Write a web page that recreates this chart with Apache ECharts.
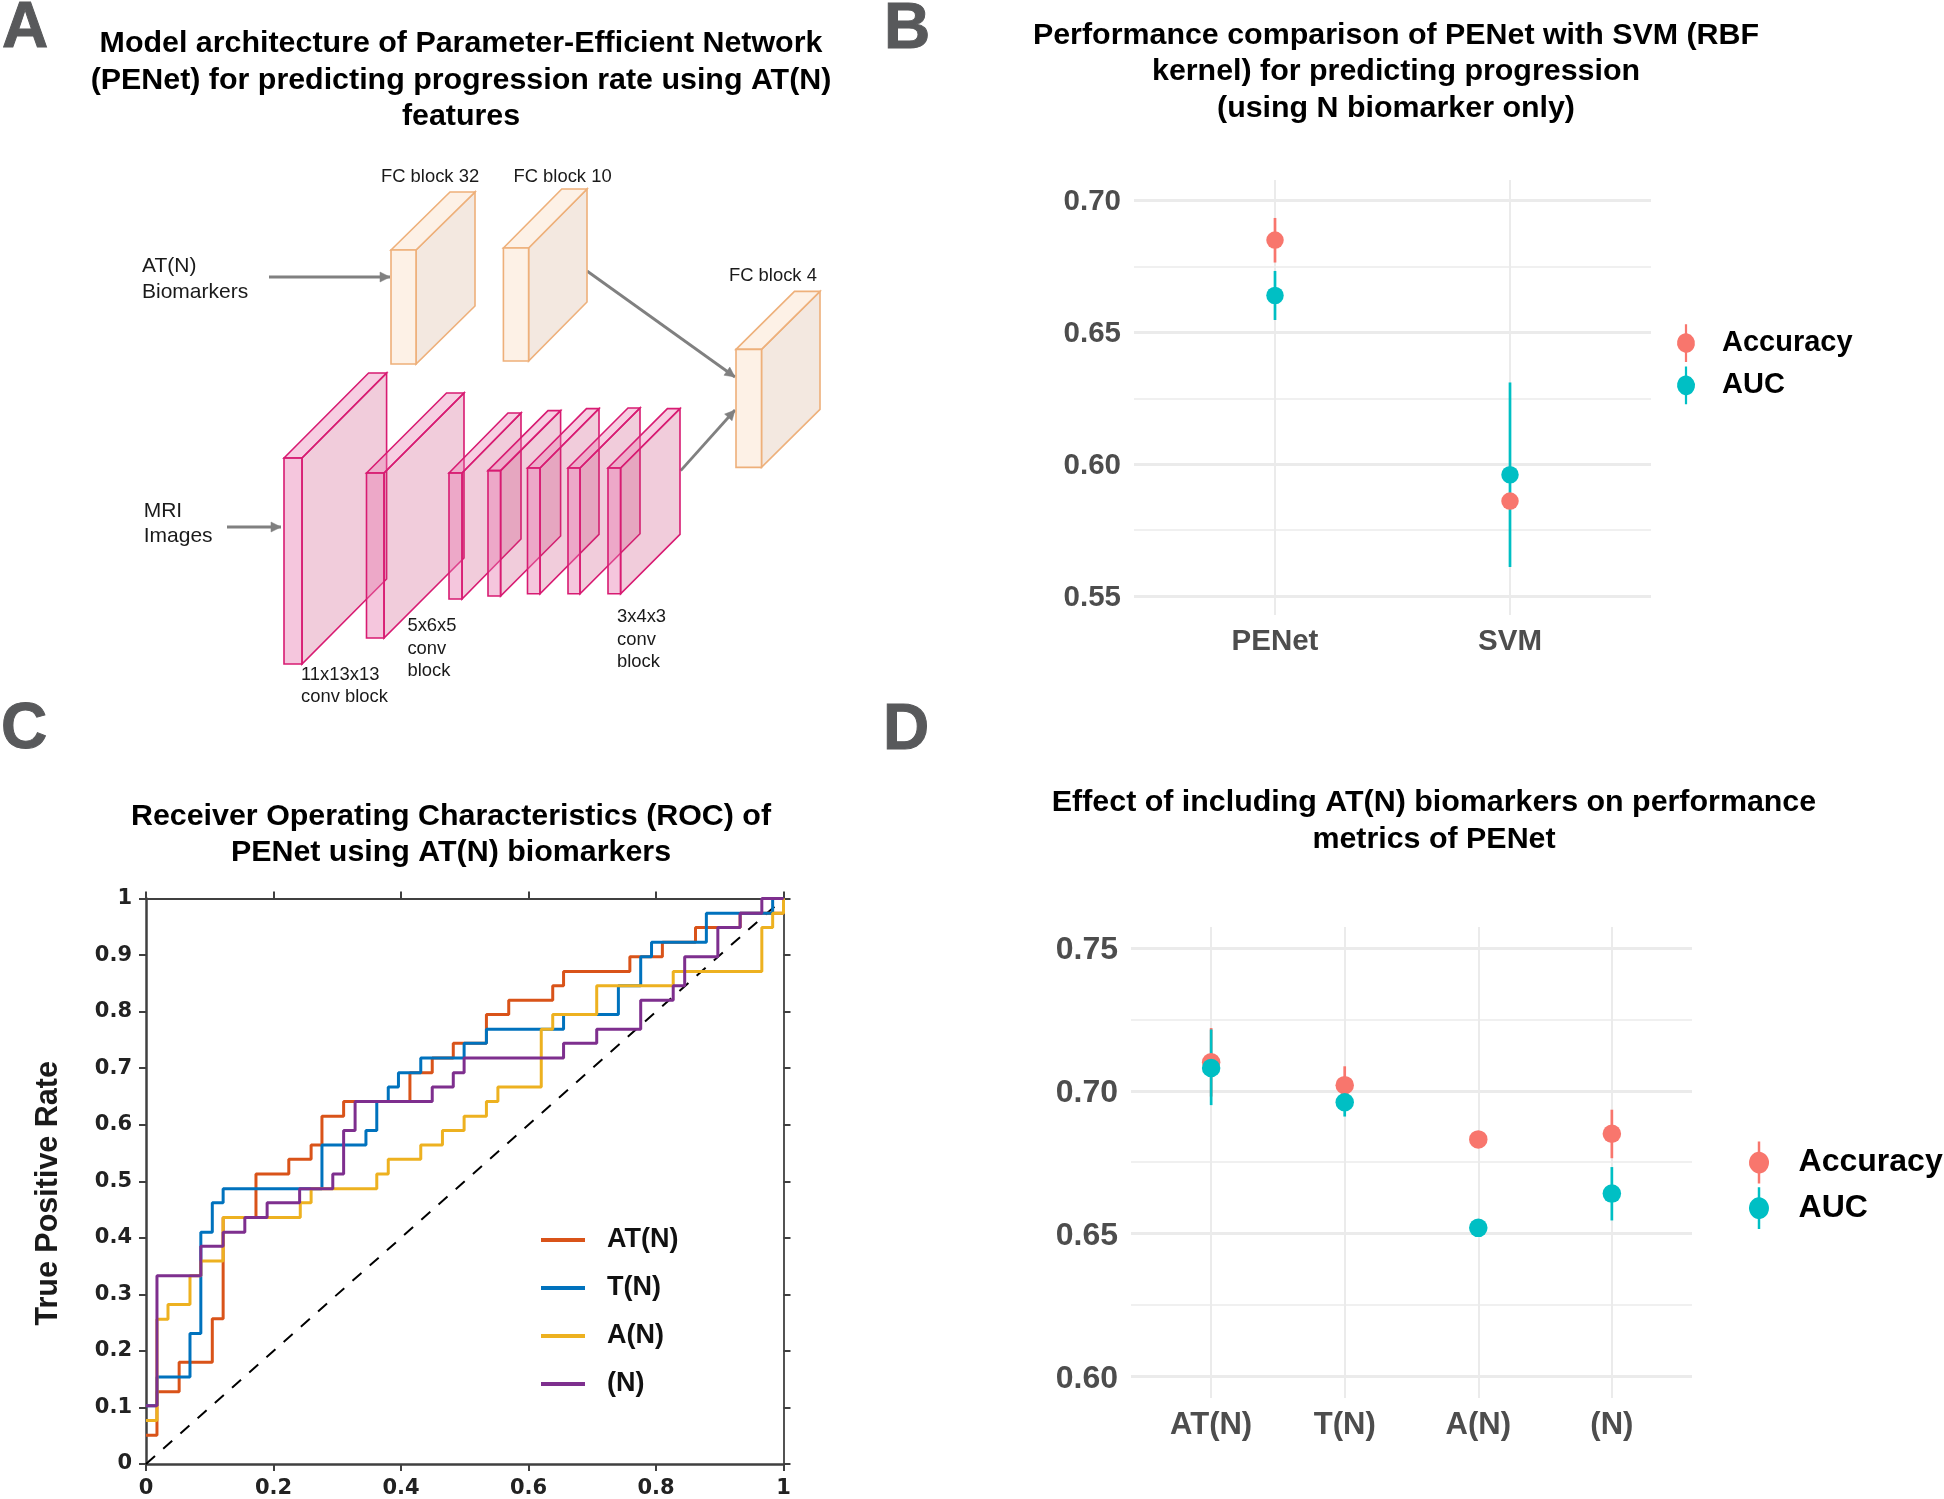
<!DOCTYPE html>
<html><head><meta charset="utf-8">
<style>html,body{margin:0;padding:0;background:#fff}#c{width:1944px;height:1499px}</style>
<script src="https://cdn.jsdelivr.net/npm/echarts@6/dist/echarts.min.js"></script>
</head><body><div id="c"></div>
<script>
// ---------- Panel B data ----------
const bCategories = ['PENet', 'SVM'];
const bAccuracy = [0.685, 0.586];
const bAccuracyLow = [0.6765, 0.585];
const bAccuracyHigh = [0.6934, 0.587];
const bAuc = [0.664, 0.596];
const bAucLow = [0.6547, 0.561];
const bAucHigh = [0.6733, 0.631];
const bMajorTicks = [0.55, 0.60, 0.65, 0.70];
const bMinorTicks = [0.575, 0.625, 0.675];

// ---------- Panel D data ----------
const dCategories = ['AT(N)', 'T(N)', 'A(N)', '(N)'];
const dAccuracy = [0.710, 0.702, 0.683, 0.685];
const dAccuracyLow = [0.698, 0.695, 0.6825, 0.6764];
const dAccuracyHigh = [0.722, 0.7086, 0.6835, 0.6934];
const dAuc = [0.708, 0.696, 0.652, 0.664];
const dAucLow = [0.695, 0.691, 0.6515, 0.6546];
const dAucHigh = [0.7215, 0.701, 0.6525, 0.6733];
const dMajorTicks = [0.60, 0.65, 0.70, 0.75];
const dMinorTicks = [0.625, 0.675, 0.725];

// ---------- Panel C data (ROC corners: x where the curve rises, y after the rise) ----------
const rocAT = [[0,0.051],[0.0172,0.128],[0.052,0.18],[0.104,0.257],[0.121,0.436],[0.1725,0.513],[0.224,0.539],[0.259,0.564],[0.276,0.615],[0.31,0.641],[0.414,0.692],[0.449,0.718],[0.482,0.744],[0.534,0.795],[0.569,0.82],[0.638,0.846],[0.655,0.871],[0.759,0.897],[0.81,0.923],[0.862,0.949],[0.932,0.974],[1,1]];
const rocT = [[0,0.103],[0.0172,0.154],[0.069,0.231],[0.086,0.41],[0.104,0.462],[0.121,0.487],[0.276,0.564],[0.345,0.59],[0.362,0.641],[0.38,0.667],[0.396,0.692],[0.431,0.718],[0.499,0.744],[0.534,0.769],[0.655,0.795],[0.741,0.846],[0.776,0.897],[0.793,0.923],[0.879,0.974],[0.983,1],[1,1]];
const rocA = [[0,0.077],[0.0172,0.256],[0.0345,0.282],[0.069,0.333],[0.086,0.359],[0.121,0.436],[0.242,0.462],[0.259,0.487],[0.362,0.513],[0.38,0.539],[0.431,0.564],[0.465,0.59],[0.499,0.615],[0.534,0.641],[0.552,0.667],[0.62,0.769],[0.638,0.795],[0.707,0.846],[0.827,0.871],[0.966,0.949],[0.983,0.974],[1,1]];
const rocN = [[0,0.103],[0.0172,0.333],[0.086,0.385],[0.121,0.41],[0.155,0.436],[0.19,0.462],[0.241,0.487],[0.293,0.513],[0.31,0.59],[0.328,0.641],[0.449,0.667],[0.482,0.692],[0.499,0.718],[0.655,0.744],[0.707,0.769],[0.776,0.82],[0.827,0.846],[0.845,0.897],[0.897,0.949],[0.932,0.974],[0.966,1],[1,1]];
const rocChance = [[0,0],[1,1]];
const rocNames = ['AT(N)', 'T(N)', 'A(N)', '(N)'];

// ---------- Styling ----------
const FONT = '"Liberation Sans", Arial, sans-serif';
const TICKFONT = '"DejaVu Sans", sans-serif';
const RED = '#F8766D', CYAN = '#00BFC4', GRID = '#ebebeb', TICK = '#4d4d4d', AX = '#404040';
const ROC_COLORS = ['#D95319', '#0072BD', '#EDB120', '#7E2F8E'];
const GLYPH = 'path://M8 0h2v8.2a9 9 0 0 1 0 17.6V34h-2v-8.2a9 9 0 0 1 0-17.6z';

function zipRange(low, high) { return low.map((v, i) => [i + 1, v, high[i]]); }
function zipPoint(vals) { return vals.map((v, i) => [i + 1, v]); }

function errSeries(name, low, high, color, xi, yi) {
  return {
    type: 'custom', name: name, xAxisIndex: xi, yAxisIndex: yi, silent: true, z: 3,
    encode: { x: 0, y: [1, 2] }, data: zipRange(low, high),
    renderItem: function (p, api) {
      const a = api.coord([api.value(0), api.value(1)]);
      const b = api.coord([api.value(0), api.value(2)]);
      return { type: 'line', shape: { x1: a[0], y1: a[1], x2: b[0], y2: b[1] }, style: { stroke: color, lineWidth: 2.7 } };
    }
  };
}
function pointSeries(name, vals, color, size, xi, yi) {
  return { type: 'scatter', name: name, xAxisIndex: xi, yAxisIndex: yi, symbolSize: size, z: 4, silent: true,
    itemStyle: { color: color, opacity: 1 }, data: zipPoint(vals) };
}
function rocSeries(name, data, color) {
  return { type: 'line', name: name, xAxisIndex: 1, yAxisIndex: 2, step: 'end', data: data, showSymbol: false, clip: false, z: 5,
    lineStyle: { color: color, width: 3 }, itemStyle: { color: color }, silent: true };
}
function ggX(gridIndex, cats, size) {
  return { type: 'value', gridIndex: gridIndex, min: 0.4, max: cats.length + 0.6, position: 'bottom',
    axisLine: { show: false }, axisTick: { show: false, customValues: cats.map((c, i) => i + 1) },
    axisLabel: { customValues: cats.map((c, i) => i + 1), color: TICK, fontWeight: 'bold', fontFamily: FONT, fontSize: size, margin: 12,
      formatter: v => cats[Math.round(v) - 1] },
    splitLine: { show: true, lineStyle: { color: GRID, width: 2 } } };
}
function ggY(gridIndex, min, max, ticks, size, width, labels, nudge) {
  return { type: 'value', gridIndex: gridIndex, min: min, max: max, position: 'left',
    axisLine: { show: false }, axisTick: { show: false, customValues: ticks },
    axisLabel: { show: labels, customValues: ticks, margin: 13, fontSize: size,
      rich: { a: { color: TICK, fontWeight: 'bold', fontFamily: FONT, fontSize: size, padding: [nudge || 0, 0, 0, 0] } },
      formatter: v => '{a|' + v.toFixed(2) + '}' },
    splitLine: { show: true, lineStyle: { color: GRID, width: width } } };
}
function rocAxis(position, interval, labels) {
  return { type: 'value', gridIndex: 1, min: 0, max: 1, interval: interval, position: position,
    axisLine: { show: true, onZero: false, lineStyle: { color: AX, width: (position === 'left' || position === 'bottom') ? 2.5 : 1.8 } },
    axisTick: { show: true, length: 7, lineStyle: { color: AX, width: 2 } },
    axisLabel: { show: labels, color: '#222', fontWeight: 'bold', fontFamily: TICKFONT, fontSize: 21, margin: 14 },
    splitLine: { show: false } };
}

// ---------- Panel A diagram (schematic, not data) ----------
const ORANGE = { front: '#fdf1e6', top: '#fdf1e6', side: '#f3e8e0', line: '#eeb07a' };
const PINK = { front: 'rgba(232,120,175,.42)', top: 'rgba(232,120,175,.36)', side: 'rgba(200,50,110,.25)', line: '#d81b72' };
const el = [];
function poly(pts, fill, stroke, lw) {
  el.push({ type: 'polygon', shape: { points: pts }, style: { fill: fill, stroke: stroke, lineWidth: lw === undefined ? 1.6 : lw }, silent: true });
}
function box(x, y, w, h, dx, dy, c) {
  poly([[x + w, y], [x + w + dx, y - dy], [x + w + dx, y + h - dy], [x + w, y + h]], c.side, c.line);
  poly([[x, y], [x + dx, y - dy], [x + w + dx, y - dy], [x + w, y]], c.top, c.line);
  poly([[x, y], [x + w, y], [x + w, y + h], [x, y + h]], c.front, c.line);
}
function arrow(x1, y1, x2, y2) {
  el.push({ type: 'line', shape: { x1: x1, y1: y1, x2: x2, y2: y2 }, style: { stroke: '#808080', lineWidth: 2.8 }, silent: true });
  const a = Math.atan2(y2 - y1, x2 - x1), L = 10, W = 5;
  const bx = x2 - L * Math.cos(a), by = y2 - L * Math.sin(a);
  poly([[x2, y2], [bx - W * Math.sin(a), by + W * Math.cos(a)], [bx + W * Math.sin(a), by - W * Math.cos(a)]], '#808080', '#808080', 0.5);
}
function label(t, x, y, size) {
  el.push({ type: 'text', x: x, y: y + 1.2, silent: true, z: 10, style: { text: t, font: (size || 18.4) + 'px ' + FONT, fill: '#1a1a1a', verticalAlign: 'middle' } });
}
arrow(269, 277, 390, 277);
arrow(587, 271, 735, 377);
arrow(680.7, 470.6, 735, 410);
arrow(227, 527, 281, 527);
box(391, 250, 25, 114, 59, 58, ORANGE);
box(503.4, 248, 25.2, 113, 58.4, 59, ORANGE);
box(736, 349.4, 25.5, 118, 58.5, 58, ORANGE);
box(284, 458, 18, 206, 84.6, 85, PINK);
box(366.5, 473, 17.5, 165, 80, 80, PINK);
box(449, 473, 13, 126, 59, 60, PINK);
box(488, 470.6, 12.6, 125.4, 60, 60, PINK);
box(527.5, 468, 12.5, 125.7, 59, 59.4, PINK);
box(568, 468, 12, 125.7, 60, 60, PINK);
box(608, 468, 12.6, 125.7, 59.4, 59.4, PINK);
label('FC block 32', 381, 176);
label('FC block 10', 513.5, 176);
label('FC block 4', 729, 274.6);
label('AT(N)', 142, 265, 21);
label('Biomarkers', 142, 291, 21);
label('MRI', 143.7, 509.6, 21);
label('Images', 143.7, 535, 21);
label('11x13x13', 301, 673.5);
label('conv block', 301, 695.6);
label('5x6x5', 407.4, 625);
label('conv', 407.4, 648);
label('block', 407.4, 670);
label('3x4x3', 617, 616);
label('conv', 617, 639);
label('block', 617, 661);
function letter(t, x, y) {
  el.push({ type: 'text', x: x, y: y, silent: true, style: { text: t, font: 'bold 64px ' + FONT, fill: '#58595b', stroke: '#58595b', lineWidth: 1, verticalAlign: 'middle' } });
}
letter('A', 2, 29); letter('B', 884, 30); letter('C', 1, 730); letter('D', 883, 731);

function panelTitle(text, cx, top) {
  return { text: text, left: cx, top: top, textAlign: 'center', padding: 0,
    textStyle: { fontFamily: FONT, fontWeight: 'bold', fontSize: 30.4, lineHeight: 36.6, color: '#000' } };
}

const option = {
  animation: false,
  backgroundColor: '#fff',
  textStyle: { fontFamily: FONT },
  title: [
    panelTitle('Model architecture of Parameter-Efficient Network\n(PENet) for predicting progression rate using AT(N)\nfeatures', 461, 25.5),
    panelTitle('Performance comparison of PENet with SVM (RBF\nkernel) for predicting progression\n(using N biomarker only)', 1396, 17),
    panelTitle('Receiver Operating Characteristics (ROC) of\nPENet using AT(N) biomarkers', 451, 798),
    panelTitle('Effect of including AT(N) biomarkers on performance\nmetrics of PENet', 1434, 784.5)
  ],
  grid: [
    { left: 1134, top: 180, width: 517, height: 435 },
    { left: 146, top: 898.6, width: 637.5, height: 565.4 },
    { left: 1131, top: 927, width: 561, height: 471 }
  ],
  xAxis: [
    ggX(0, bCategories, 29.5),
    rocAxis('bottom', 0.2, true),
    rocAxis('top', 0.2, false),
    ggX(2, dCategories, 31)
  ],
  yAxis: [
    ggY(0, 0.5428, 0.7078, bMajorTicks, 29.5, 3, true, 3),
    ggY(0, 0.5428, 0.7078, bMinorTicks, 29.5, 1.6, false),
    Object.assign(rocAxis('left', 0.1, true), { name: 'True Positive Rate', nameLocation: 'middle', nameGap: 82,
      nameTextStyle: { fontFamily: FONT, fontWeight: 'bold', fontSize: 30.5, color: '#1a1a1a', padding: [0, 24, 0, 0] } }),
    rocAxis('right', 0.1, false),
    ggY(2, 0.5924, 0.7574, dMajorTicks, 32, 3, true, 5),
    ggY(2, 0.5924, 0.7574, dMinorTicks, 32, 1.6, false)
  ],
  legend: [
    { left: 1677, top: 324.2, padding: 0, orient: 'vertical', itemWidth: 18, itemHeight: 42.5, itemGap: 4.6,
      data: [{ name: 'Accuracy', icon: GLYPH }, { name: 'AUC', icon: GLYPH }], selectedMode: false,
      textStyle: { fontFamily: FONT, fontWeight: 'bold', fontSize: 29, color: '#000', padding: [0, 0, 0, 22] } },
    { left: 1749, top: 1141.6, padding: 0, orient: 'vertical', itemWidth: 20, itemHeight: 45.4, itemGap: 3.7,
      data: [{ name: 'Accuracy', icon: GLYPH }, { name: 'AUC', icon: GLYPH }], selectedMode: false,
      textStyle: { fontFamily: FONT, fontWeight: 'bold', fontSize: 32, color: '#000', padding: [0, 0, 0, 24.6] } },
    { left: 541, top: 1226.5, padding: 0, orient: 'vertical', itemWidth: 44, itemHeight: 4, itemGap: 21,
      data: rocNames.map(n => ({ name: n, icon: 'path://M0 16h44v4H0z' })), selectedMode: false,
      textStyle: { fontFamily: FONT, fontWeight: 'bold', fontSize: 27, color: '#111', padding: [0, 0, 0, 17] } }
  ],
  graphic: { elements: el },
  series: [
    errSeries('Accuracy range B', bAccuracyLow, bAccuracyHigh, RED, 0, 0),
    errSeries('AUC range B', bAucLow, bAucHigh, CYAN, 0, 0),
    pointSeries('Accuracy', bAccuracy, RED, 17.5, 0, 0),
    pointSeries('AUC', bAuc, CYAN, 17.5, 0, 0),
    errSeries('Accuracy range D', dAccuracyLow, dAccuracyHigh, RED, 3, 4),
    errSeries('AUC range D', dAucLow, dAucHigh, CYAN, 3, 4),
    pointSeries('Accuracy', dAccuracy, RED, 18.5, 3, 4),
    pointSeries('AUC', dAuc, CYAN, 18.5, 3, 4),
    { type: 'line', name: 'Chance', xAxisIndex: 1, yAxisIndex: 2, data: rocChance, showSymbol: false, silent: true, z: 4,
      lineStyle: { color: '#000', width: 2, type: [12, 11] } },
    rocSeries(rocNames[0], rocAT, ROC_COLORS[0]),
    rocSeries(rocNames[1], rocT, ROC_COLORS[1]),
    rocSeries(rocNames[2], rocA, ROC_COLORS[2]),
    rocSeries(rocNames[3], rocN, ROC_COLORS[3])
  ]
};
const chart = echarts.init(document.getElementById('c'), null, { renderer: 'canvas', width: 1944, height: 1499 });
chart.setOption(option);
</script></body></html>
